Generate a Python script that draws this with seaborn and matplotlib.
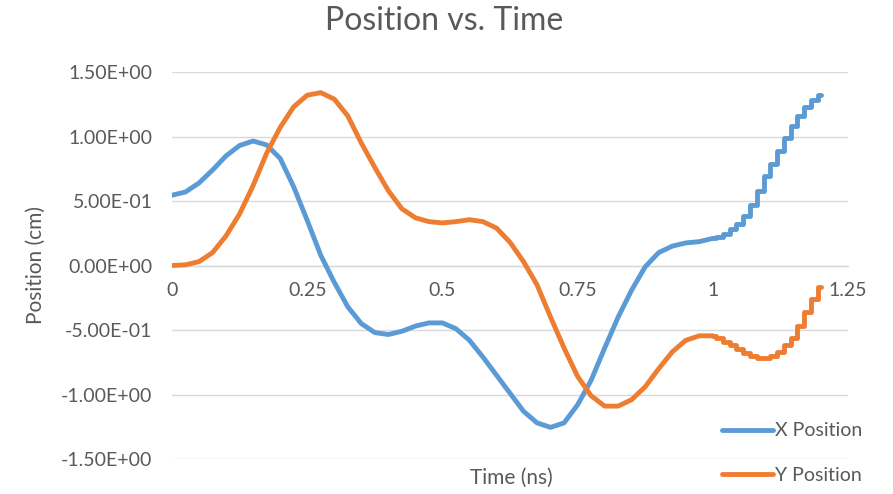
import numpy as np
import pandas as pd
import seaborn as sns
import matplotlib.pyplot as plt
from matplotlib.lines import Line2D

# values
time_main = [0, 0.025, 0.05, 0.075, 0.1, 0.125, 0.15, 0.175, 0.2, 0.225,
             0.25, 0.275, 0.3, 0.325, 0.35, 0.375, 0.4, 0.425, 0.45, 0.475,
             0.5, 0.525, 0.55, 0.575, 0.6, 0.625, 0.65, 0.675, 0.7, 0.725,
             0.75, 0.775, 0.8, 0.825, 0.85, 0.875, 0.9, 0.925, 0.95, 0.975, 1.0]
x_main = [0.545, 0.57, 0.64, 0.74, 0.85, 0.93, 0.965, 0.935, 0.83, 0.61,
          0.35, 0.08, -0.13, -0.32, -0.45, -0.52, -0.535, -0.51, -0.47, -0.445,
          -0.445, -0.49, -0.58, -0.71, -0.85, -0.99, -1.13, -1.22, -1.255, -1.22,
          -1.08, -0.89, -0.64, -0.40, -0.19, -0.01, 0.10, 0.15, 0.175, 0.185, 0.21]
y_main = [0.0, 0.005, 0.03, 0.10, 0.23, 0.40, 0.62, 0.87, 1.07, 1.23,
          1.32, 1.34, 1.29, 1.16, 0.95, 0.76, 0.58, 0.44, 0.37, 0.34,
          0.33, 0.34, 0.355, 0.34, 0.29, 0.18, 0.03, -0.15, -0.40, -0.64,
          -0.86, -1.01, -1.09, -1.09, -1.04, -0.94, -0.80, -0.67, -0.58, -0.545, -0.545]

# coarser tail of the run (drawn as steps like the original)
time_tail = [1.0, 1.0125, 1.025, 1.0375, 1.05, 1.0625, 1.075, 1.0875, 1.1,
             1.1125, 1.125, 1.1375, 1.15, 1.1625, 1.175, 1.1875, 1.2]
x_tail = [0.21, 0.22, 0.245, 0.28, 0.32, 0.38, 0.47, 0.58, 0.69,
          0.79, 0.89, 0.99, 1.08, 1.16, 1.23, 1.28, 1.32]
y_tail = [-0.545, -0.56, -0.59, -0.62, -0.65, -0.68, -0.705, -0.72, -0.72,
          -0.70, -0.67, -0.62, -0.56, -0.47, -0.36, -0.26, -0.17]

x_ticks = [0, 0.25, 0.5, 0.75, 1, 1.25]
x_tick_labels = ['0', '0.25', '0.5', '0.75', '1', '1.25']
y_ticks = [-1.5, -1.0, -0.5, 0.0, 0.5, 1.0, 1.5]
y_tick_labels = ['-1.50E+00', '-1.00E+00', '-5.00E-01', '0.00E+00',
                 '5.00E-01', '1.00E+00', '1.50E+00']

series = ['X Position', 'Y Position']
colors = {'X Position': '#5B9BD5', 'Y Position': '#ED7D31'}

main_df = pd.concat([
    pd.DataFrame({'Time': time_main, 'Position': x_main, 'Series': 'X Position'}),
    pd.DataFrame({'Time': time_main, 'Position': y_main, 'Series': 'Y Position'}),
])
tail_df = pd.concat([
    pd.DataFrame({'Time': time_tail, 'Position': x_tail, 'Series': 'X Position'}),
    pd.DataFrame({'Time': time_tail, 'Position': y_tail, 'Series': 'Y Position'}),
])

sns.set_style("white")
plt.rcParams['font.family'] = ['Lato', 'DejaVu Sans']
text_col = '#595959'
grid_col = '#d9d9d9'

fig = plt.figure(figsize=(8.93, 4.94), dpi=100)
ax = fig.add_axes([172/893, 1 - 459/494, 676/893, 387/494])

sns.lineplot(data=main_df, x='Time', y='Position', hue='Series', palette=colors,
             linewidth=3.5, sort=False, legend=False, solid_joinstyle='round',
             solid_capstyle='round', ax=ax)
sns.lineplot(data=tail_df, x='Time', y='Position', hue='Series', palette=colors,
             linewidth=3.5, sort=False, legend=False, drawstyle='steps-mid',
             solid_joinstyle='round', ax=ax)

ax.set_xlim(0, 1.25)
ax.set_ylim(-1.5, 1.5)
ax.set_xticks(x_ticks)
ax.set_xticklabels(x_tick_labels)
ax.set_yticks(y_ticks)
ax.set_yticklabels(y_tick_labels)

ax.grid(axis='y', color=grid_col, linewidth=1)
ax.set_axisbelow(True)
for s in ['top', 'right', 'left']:
    ax.spines[s].set_visible(False)
ax.spines['bottom'].set_position(('data', 0))
ax.spines['bottom'].set_color(grid_col)
ax.spines['bottom'].set_linewidth(1)
ax.spines['bottom'].set_zorder(0)

ax.tick_params(axis='x', length=0, pad=12, labelsize=14, labelcolor=text_col)
ax.tick_params(axis='y', length=0, pad=14, labelsize=14, labelcolor=text_col)

ax.set_xlabel('')
ax.set_ylabel('')
fig.text(36/893, 1 - 265/494, 'Position (cm)', rotation=90, ha='center',
         va='center', fontsize=15, color=text_col)
fig.text(511/893, 1 - 478/494, 'Time (ns)', ha='center', va='center',
         fontsize=15, color=text_col)
fig.text(444/893, 1 - 21/494, 'Position vs. Time', ha='center', va='center',
         fontsize=23, color=text_col)

handles = [Line2D([], [], color=colors[s], linewidth=3.5, solid_capstyle='round')
           for s in series]
fig.legend(handles, series, loc='center left', bbox_to_anchor=(722/893, 1 - 453/494),
           frameon=False, fontsize=14, labelcolor=text_col, handlelength=2.6,
           handletextpad=0.15, labelspacing=1.4, borderpad=0, borderaxespad=0)

plt.savefig('out.png', dpi=100)
